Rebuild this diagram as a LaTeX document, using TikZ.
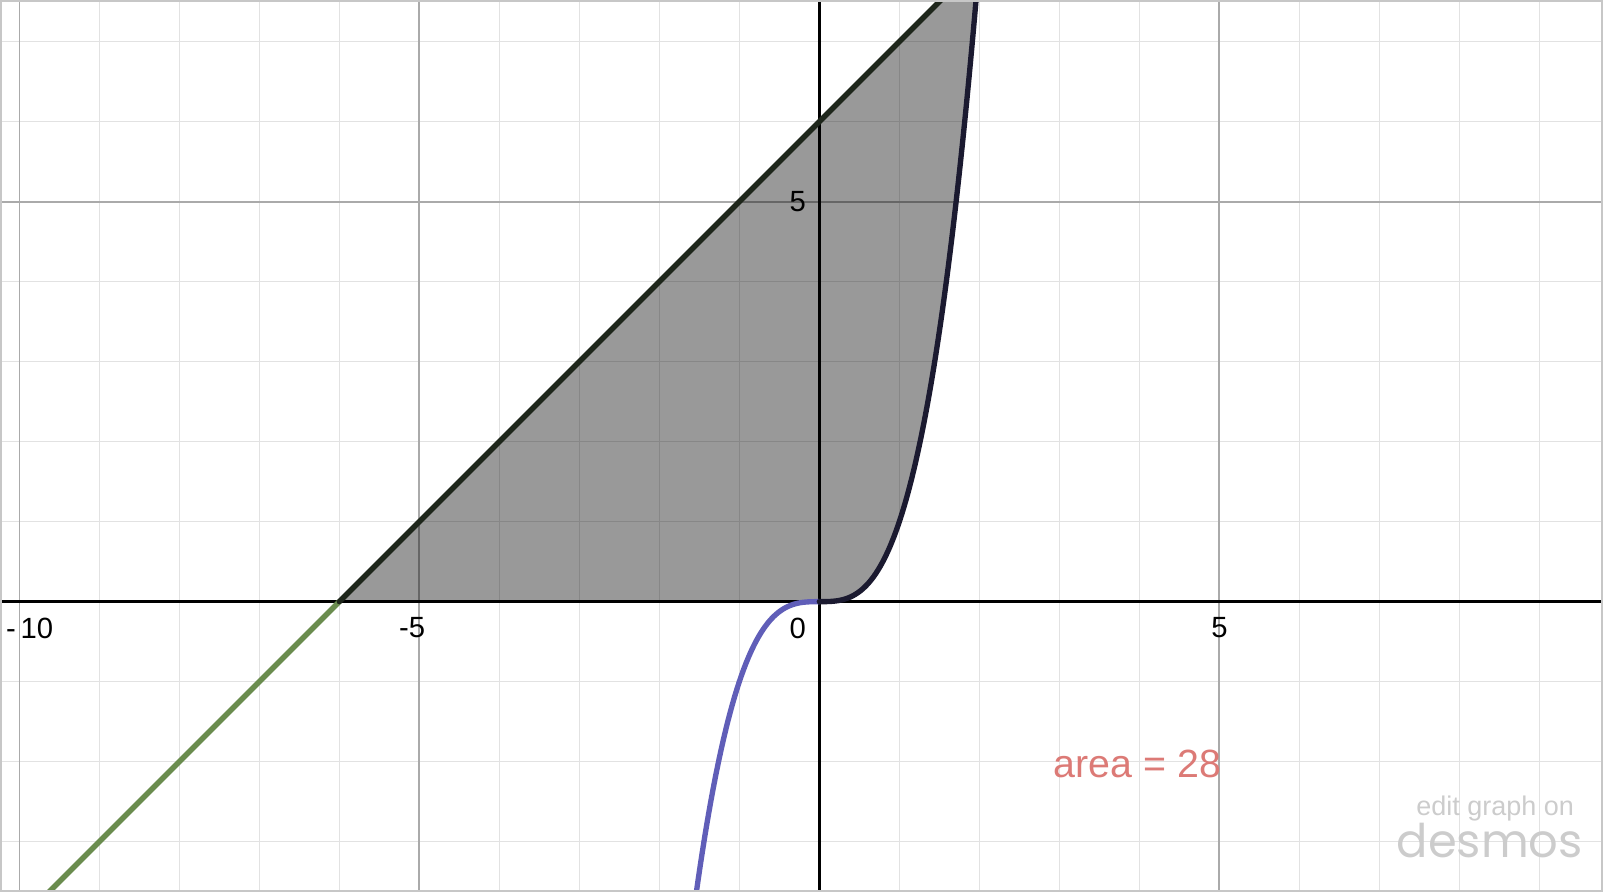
\documentclass[tikz,border=0pt]{standalone}
\usepackage{fontspec}
\setmainfont{Liberation Sans}
\newfontfamily\logofont{Poppins}
\usepackage{tikz}
\usetikzlibrary{positioning, calc}
\definecolor{mygreen}{HTML}{6A8C4E}
\definecolor{mypurple}{HTML}{605EB8}
\definecolor{mydarkgreen}{HTML}{1E261B}
\definecolor{mydarknavy}{HTML}{1B1A30}
\definecolor{myred}{HTML}{DC7A76}
\definecolor{mygridminor}{HTML}{E2E2E2}
\definecolor{mygridmajor}{HTML}{AAAAAA}
\tikzset{
	minorgrid/.style={draw=mygridminor, line width=0.45pt}
}
\tikzset{
	majorgrid/.style={draw=mygridmajor, line width=0.6pt}
}
\tikzset{
	axisline/.style={draw=black, line width=1.1pt}
}
\tikzset{
	curveline/.style={line width=1.9pt, line cap=round, line join=round}
}
\tikzset{
	ticklabel/.style={font=\fontsize{10.4}{11}\selectfont, inner sep=0pt, anchor=east}
}
\tikzset{
	watermark/.style={color=black!20, inner sep=0pt, anchor=east}
}

\begin{document}
\begin{tikzpicture}
\useasboundingbox (-10.242,-3.629) rectangle (9.796,7.521);
\clip (-10.242,-3.629) rectangle (9.796,7.521);

\draw[minorgrid] (-10.242,-3.629) grid[step=1] (9.796,7.521);
\draw[majorgrid] (-10.242,-3.629) grid[step=5] (9.796,7.521);

% shaded region
\fill[black, fill opacity=0.4]
	(-6,0) -- (2,8) --
	plot[domain=2:0, samples=60] (\x,{\x*\x*\x}) --
	cycle;

\draw[axisline] (-10.242,0) -- (9.796,0);
\draw[axisline] (0,-3.629) -- (0,7.521);

\coordinate (lineA) at (-10.242,-4.242);
\coordinate (lineB) at (-6,0);
\coordinate (lineC) at (2,8);

\draw[curveline, mygreen] (lineA) -- (lineB);
\draw[curveline, mydarkgreen] (lineB) -- (lineC);
\draw[curveline, mypurple] plot[domain=-1.6:0, samples=60] (\x,{\x*\x*\x});
\draw[curveline, mydarknavy] plot[domain=0:1.99, samples=80] (\x,{\x*\x*\x});

\node[ticklabel] (lblxmten) at (-9.57,-0.33) {-\,10};
\node[ticklabel] (lblxmfive) at (-4.92,-0.33) {-5};
\node[ticklabel] (lblxzero) at (-0.16,-0.33) {0};
\node[ticklabel] (lblxfive) at (5.11,-0.33) {5};
\node[ticklabel] (lblyfive) at (-0.16,5.0) {5};

\node[anchor=east, inner sep=0pt, font=\fontsize{14}{16}\selectfont, text=myred] (areatext) at (5.03,-2.03) {area = 28};

\node[watermark, font=\fontsize{9.6}{11}\selectfont] (editgraph) at (9.44,-2.58) {edit graph on};
\node[watermark, font=\logofont\fontsize{16.5}{17}\selectfont] (desmoslogo) at (9.55,-2.99) {desmos};

\draw[black!22, line width=0.8pt] (-10.232,-3.619) rectangle (9.786,7.511);
\end{tikzpicture}
\end{document}
